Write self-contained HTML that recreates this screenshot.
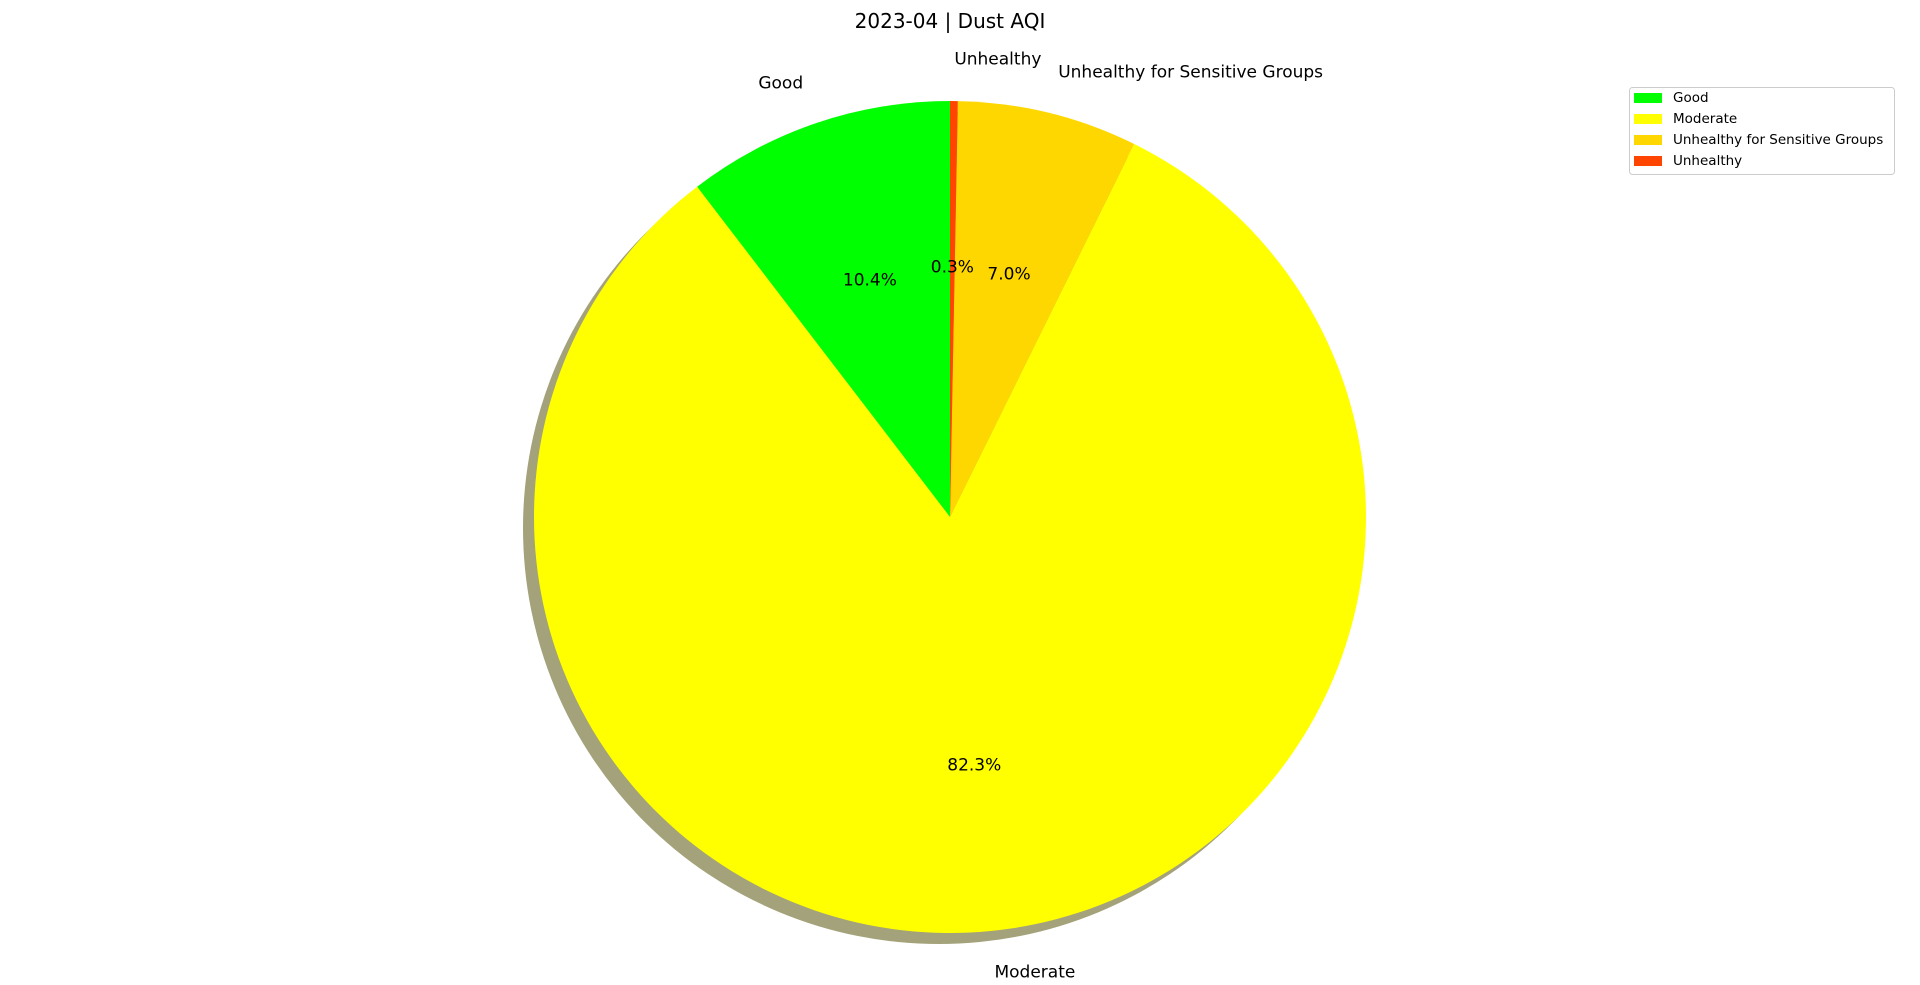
<!DOCTYPE html>
<html><head><meta charset="utf-8"><style>
html,body{margin:0;padding:0;background:#fff;}
svg{display:block;font-family:"DejaVu Sans","Liberation Sans",sans-serif;}
</style></head><body>
<svg id="chart" width="1920" height="985" viewBox="0 0 1920 985" xmlns="http://www.w3.org/2000/svg">
<text x="950" y="28" font-size="20" text-anchor="middle">2023-04 | Dust AQI</text>
<g id="shadow"></g>
<g id="slices"></g>
<g id="labels"></g>
<g id="legend">
<rect x="1629.5" y="87.5" width="265" height="87" rx="3" fill="#fff" stroke="#ccc" stroke-width="1"/>
</g>
</svg>
<script>
const categories = ["Good","Moderate","Unhealthy for Sensitive Groups","Unhealthy"];
const values = [10.4, 82.3, 7.0, 0.3];
const colors = ["#00ff00","#ffff00","#ffd700","#ff4500"];
const NS="http://www.w3.org/2000/svg";
const cx=950, cy=517, R=416;
const total=values.reduce((a,b)=>a+b,0);
function pt(deg,r){const a=deg*Math.PI/180;return [cx+r*Math.cos(a), cy-r*Math.sin(a)];}
function el(tag,attrs){const e=document.createElementNS(NS,tag);for(const k in attrs)e.setAttribute(k,attrs[k]);return e;}
const sh=el('circle',{cx:cx-11,cy:cy+11,r:R,fill:'#a3a27a'});


document.getElementById('shadow').appendChild(sh);
let start=90;
values.forEach((v,i)=>{
  const sweep=v/total*360, end=start+sweep;
  const [x1,y1]=pt(start,R),[x2,y2]=pt(end,R);
  const large=sweep>180?1:0;
  const p=el('path',{d:`M${cx},${cy} L${x1},${y1} A${R},${R} 0 ${large} 0 ${x2},${y2} Z`,fill:colors[i]});
  
  
  document.getElementById('slices').appendChild(p);
  const mid=(start+end)/2;
  const [lx,ly]=pt(mid,R*1.1);
  const t=el('text',{x:lx,y:ly,'font-size':17,'dominant-baseline':'central','text-anchor':Math.cos(mid*Math.PI/180)>=0?'start':'end'});
  t.textContent=categories[i];
  
  
  document.getElementById('labels').appendChild(t);
  const [px,py]=pt(mid,R*0.6);
  const q=el('text',{x:px,y:py,'font-size':17,'dominant-baseline':'central','text-anchor':'middle'});
  q.textContent=v.toFixed(1)+'%';
  
  
  document.getElementById('labels').appendChild(q);
  // legend
  const ry=98+i*21;
  const lr=el('rect',{x:1634,y:ry-5,width:28,height:10,fill:colors[i]});
  
  
  document.getElementById('legend').appendChild(lr);
  const lt=el('text',{x:1673,y:ry,'font-size':13.5,'dominant-baseline':'central'});
  lt.textContent=categories[i];
  
  
  document.getElementById('legend').appendChild(lt);
  start=end;
});
</script>
</body></html>
